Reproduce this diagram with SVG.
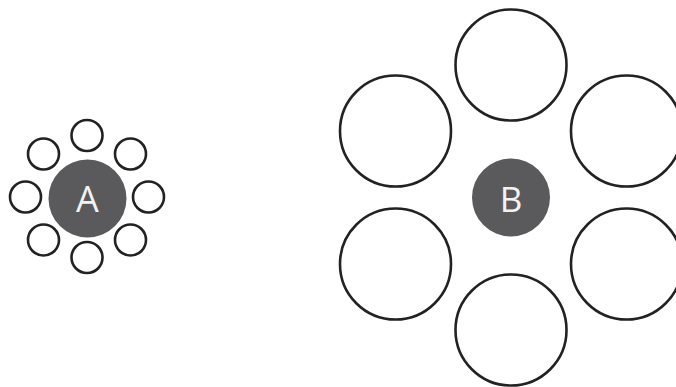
<svg xmlns="http://www.w3.org/2000/svg" width="676" height="387" viewBox="0 0 676 387">
<style>
.ring{fill:#fff;stroke:#222;stroke-width:2.6}
.core{fill:#5a5a5c}
.lbl{font-family:"Open Sans","Liberation Sans",sans-serif;fill:#f2f2f2;text-anchor:middle}
</style>
<rect width="676" height="387" fill="#fff"/>
<g id="groupA">
<circle class="ring" cx="87" cy="135.5" r="15.5"/>
<circle class="ring" cx="130.5" cy="154" r="15.5"/>
<circle class="ring" cx="148.5" cy="197" r="15.5"/>
<circle class="ring" cx="130.5" cy="240" r="15.5"/>
<circle class="ring" cx="87" cy="257.5" r="15.5"/>
<circle class="ring" cx="43.5" cy="240" r="15.5"/>
<circle class="ring" cx="25.5" cy="197" r="15.5"/>
<circle class="ring" cx="43.5" cy="154" r="15.5"/>
</g>
<g id="nodeA">
<circle class="core" cx="87.5" cy="198.5" r="39"/>
<text class="lbl" x="87.5" y="212" font-size="36">A</text>
</g>
<g id="groupB">
<circle class="ring" cx="511" cy="65" r="55.5"/>
<circle class="ring" cx="626.5" cy="131" r="55.5"/>
<circle class="ring" cx="626.5" cy="264" r="55.5"/>
<circle class="ring" cx="511" cy="330" r="55.5"/>
<circle class="ring" cx="395.5" cy="264" r="55.5"/>
<circle class="ring" cx="395.5" cy="131" r="55.5"/>
</g>
<g id="nodeB">
<circle class="core" cx="511" cy="197.5" r="39"/>
<text class="lbl" x="511" y="212" font-size="35">B</text>
</g>
<g id="connectors"/>
</svg>
